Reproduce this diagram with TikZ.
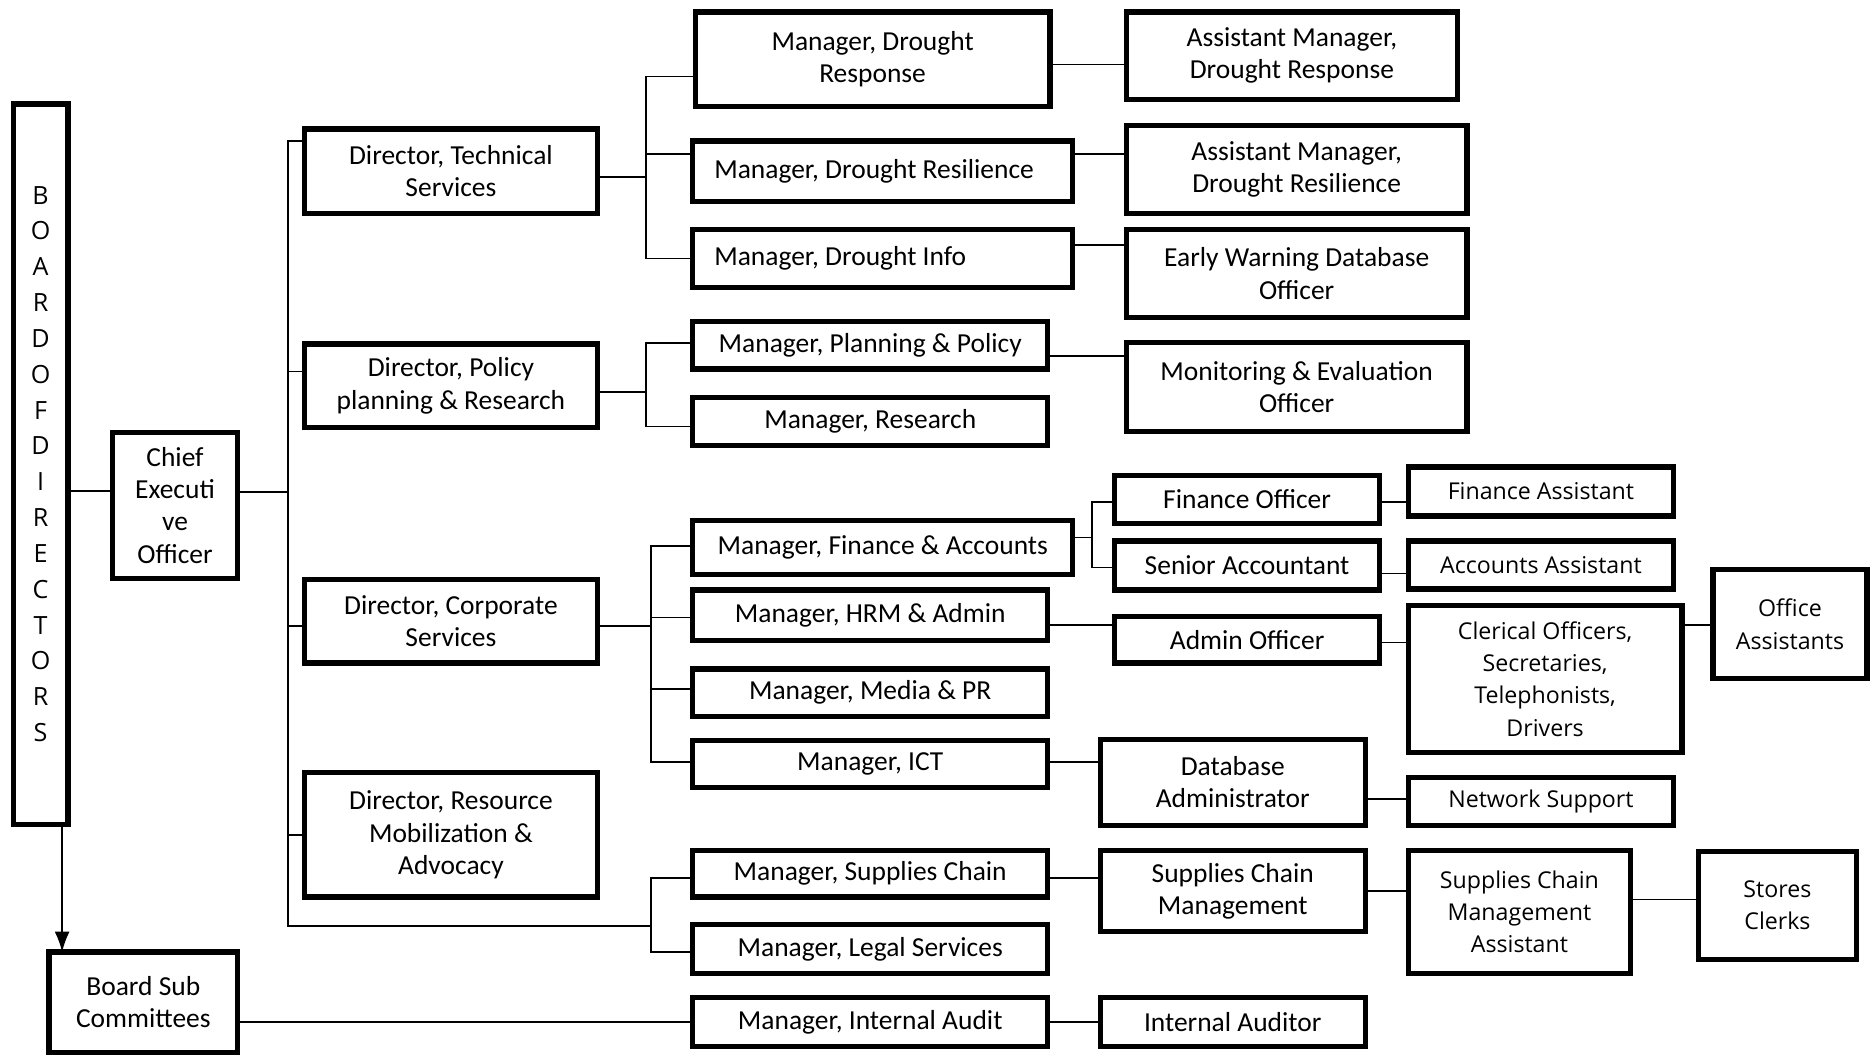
\documentclass[tikz,border=0pt]{standalone}
\usepackage{fontspec}
\setmainfont{Carlito}
\newfontfamily\widefont{Open Sans}
\usepackage{tikz}
\usetikzlibrary{arrows.meta}
\tikzset{
  % a post in the chart
  pbox/.style  = {draw, line width=2.2pt, rectangle, align=center,
                  inner sep=1pt, outer sep=0pt,
                  font=\fontsize{11.5}{13.5}\selectfont},
  % the same post, set in the wider face
  wbox/.style  = {pbox, font=\widefont\fontsize{9.7}{13.5}\selectfont},
  % a post with its text set flush left
  lbox/.style  = {pbox, align=flush left, inner xsep=9pt, text width=#1*0.5pt-20pt},
  % size of a post, in picture units
  sz/.style 2 args = {minimum width=(#1-4)*0.5pt, minimum height=(#2-4)*0.5pt},
  % a reporting line
  ln/.style    = {line width=0.7pt},
  % the arrow down to the committees
  arr/.style   = {ln, -{Latex[length=3mm,width=2.2mm]}},
  % raise a line end by so many units
  lift/.style  = {yshift=#1*0.5pt},
}
\begin{document}
\begin{tikzpicture}[x=0.5pt, y=-0.5pt]
  \useasboundingbox (0,0) rectangle (1568,886);
  % --- board, chief and committees ---
  \node[wbox, sz={50}{607}, font=\widefont\fontsize{10.5}{15}\selectfont]
    (board) at (34,388.5) {B\\O\\A\\R\\D\\O\\F\\D\\I\\R\\E\\C\\T\\O\\R\\S};
  \node[pbox, sz={109}{126}] (ceo)  at (146.5,423) {Chief\\Executi\\ve\\Officer};
  \node[pbox, sz={162}{88}]  (bsub) at (120,839)   {Board Sub\\Committees};
  % --- directors ---
  \node[pbox, sz={249}{75}]  (dtech) at (377.5,143.5) {Director, Technical\\Services};
  \node[pbox, sz={249}{74}]  (dpol)  at (377.5,323)   {Director, Policy\\planning \& Research};
  \node[pbox, sz={249}{74}]  (dcorp) at (377.5,520)   {Director, Corporate\\Services};
  \node[pbox, sz={249}{108}] (dres)  at (377.5,699)   {Director, Resource\\Mobilization \&\\Advocacy};
  % --- managers ---
  \node[pbox, sz={301}{83}] (mdresp)    at (730.5,49.5) {Manager, Drought\\Response};
  \node[lbox=322, sz={322}{55}] (mdres)  at (739,143.5)  {Manager, Drought Resilience};
  \node[lbox=322, sz={322}{53}] (mdinfo) at (739,216.5)  {Manager, Drought Info};
  \node[pbox, sz={301}{44}] (mplan)     at (728.5,289)  {Manager, Planning \& Policy};
  \node[pbox, sz={301}{44}] (mresearch) at (728.5,353)  {Manager, Research};
  \node[pbox, sz={322}{49}] (mfin)      at (739,458.5)  {Manager, Finance \& Accounts};
  \node[pbox, sz={301}{46}] (mhrm)      at (728.5,515)  {Manager, HRM \& Admin};
  \node[pbox, sz={301}{44}] (mmedia)    at (728.5,580)  {Manager, Media \& PR};
  \node[pbox, sz={301}{43}] (mict)      at (728.5,639.5) {Manager, ICT};
  \node[pbox, sz={301}{43}] (msup)      at (728.5,731.5) {Manager, Supplies Chain};
  \node[pbox, sz={301}{45}] (mlegal)    at (728.5,794.5) {Manager, Legal Services};
  \node[pbox, sz={301}{45}] (maudit)    at (728.5,855.5) {Manager, Internal Audit};
  % --- officers ---
  \node[pbox, sz={281}{77}] (adresp)  at (1081.5,46.5) {Assistant Manager,\\Drought Response};
  \node[pbox, sz={289}{78}] (adres)   at (1085.5,142)  {Assistant Manager,\\Drought Resilience};
  \node[pbox, sz={289}{78}] (ewdb)    at (1085.5,229)  {Early Warning Database\\Officer};
  \node[pbox, sz={289}{78}] (mande)   at (1085.5,324)  {Monitoring \& Evaluation\\Officer};
  \node[pbox, sz={226}{44}] (finoff)  at (1044,418)    {Finance Officer};
  \node[pbox, sz={226}{45}] (senacc)  at (1044,473.5)  {Senior Accountant};
  \node[pbox, sz={226}{43}] (admin)   at (1044,535.5)  {Admin Officer};
  \node[pbox, sz={226}{76}] (dbadmin) at (1032,655)    {Database\\Administrator};
  \node[pbox, sz={226}{72}] (scm)     at (1032,746)    {Supplies Chain\\Management};
  \node[pbox, sz={226}{45}] (auditor) at (1032,855.5)  {Internal Auditor};
  % --- assistants and support ---
  \node[wbox, sz={226}{45}]  (finasst)  at (1290,411.5)  {Finance Assistant};
  \node[wbox, sz={226}{44}]  (accasst)  at (1290,473)    {Accounts Assistant};
  \node[wbox, sz={233}{127}] (clerical) at (1293.5,568.5) {Clerical Officers,\\Secretaries,\\Telephonists,\\Drivers};
  \node[wbox, sz={226}{44}]  (netsup)   at (1290,671)    {Network Support};
  \node[wbox, sz={190}{107}] (scma)     at (1272,763.5)  {Supplies Chain\\Management\\Assistant};
  \node[wbox, sz={133}{95}]  (office)   at (1498.5,522.5) {Office\\Assistants};
  \node[wbox, sz={136}{94}]  (stores)   at (1488,758)    {Stores\\Clerks};
  % --- bus points ---
  \coordinate (cbus) at (241,412);
  \coordinate (sbus) at (545,775);
  \coordinate (tbus) at (541,148);
  \coordinate (pbus) at (541,328);
  \coordinate (kbus) at (545,524);
  \coordinate (fbus) at (914,450);
  % --- lines from the top ---
  \draw[ln] ([lift=12]ceo.west) -- ([lift=12]ceo.west -| board.east);
  \draw[ln] ([lift=11]ceo.east) -- (cbus);
  \draw[ln] ([lift=25.5]dtech.west) -| (cbus) |- (sbus);
  \draw[ln] ([lift=12]dpol.west) -- ([lift=12]dpol.west -| cbus);
  \draw[ln] ([lift=-4]dcorp.west) -- ([lift=-4]dcorp.west -| cbus);
  \draw[ln] (dres.west) -- (dres.west -| cbus);
  \draw[arr] ([xshift=9pt]board.south) -- ([xshift=9pt]board.south |- bsub.north);
  \draw[ln] (maudit.west) -- (maudit.west -| bsub.east);
  % --- directors to managers ---
  \draw[ln] ([lift=-4.5]dtech.east) -- (tbus);
  \draw[ln] ([lift=-14.5]mdresp.west) -| (tbus) |- (mdinfo.west);
  \draw[ln] ([lift=14.5]mdres.west) -- ([lift=14.5]mdres.west -| tbus);
  \draw[ln] ([lift=-5]dpol.east) -- (pbus);
  \draw[ln] ([lift=2]mplan.west) -| (pbus) |- ([lift=-4]mresearch.west);
  \draw[ln] ([lift=-4]dcorp.east) -- (kbus);
  \draw[ln] ([lift=1.5]mfin.west) -| (kbus) |- ([lift=1.5]mict.west);
  \draw[ln] ([lift=-2]mhrm.west) -- ([lift=-2]mhrm.west -| kbus);
  \draw[ln] ([lift=3]mmedia.west) -- ([lift=3]mmedia.west -| kbus);
  \draw[ln] ([lift=-3.5]msup.west) -| (sbus) |- ([lift=-2.5]mlegal.west);
  % --- managers to officers ---
  \draw[ln] ([lift=-4.5]mdresp.east) -- ([lift=-4.5]mdresp.east -| adresp.west);
  \draw[ln] ([lift=14.5]mdres.east) -- ([lift=14.5]mdres.east -| adres.west);
  \draw[ln] ([lift=11.5]mdinfo.east) -- ([lift=11.5]mdinfo.east -| ewdb.west);
  \draw[ln] ([lift=-9]mplan.east) -- ([lift=-9]mplan.east -| mande.west);
  \draw[ln] ([lift=8.5]mfin.east) -- (fbus);
  \draw[ln] ([lift=-2]finoff.west) -| (fbus) |- ([lift=-1.5]senacc.west);
  \draw[ln] ([lift=-8]mhrm.east) -- ([lift=-8]mhrm.east -| admin.west);
  \draw[ln] ([lift=1.5]mict.east) -- ([lift=1.5]mict.east -| dbadmin.west);
  \draw[ln] ([lift=-3.5]msup.east) -- ([lift=-3.5]msup.east -| scm.west);
  \draw[ln] (maudit.east) -- (maudit.east -| auditor.west);
  % --- officers to assistants ---
  \draw[ln] ([lift=-2]finoff.east) -- ([lift=-2]finoff.east -| finasst.west);
  \draw[ln] ([lift=-6.5]senacc.east) -- ([lift=-6.5]senacc.east -| accasst.west);
  \draw[ln] ([lift=-2.5]admin.east) -- ([lift=-2.5]admin.east -| clerical.west);
  \draw[ln] ([lift=45.5]clerical.east) -- ([lift=45.5]clerical.east -| office.west);
  \draw[ln] ([lift=-14]dbadmin.east) -- ([lift=-14]dbadmin.east -| netsup.west);
  \draw[ln] (scm.east) -- (scm.east -| scma.west);
  \draw[ln] ([lift=10.5]scma.east) -- ([lift=10.5]scma.east -| stores.west);
\end{tikzpicture}
\end{document}
